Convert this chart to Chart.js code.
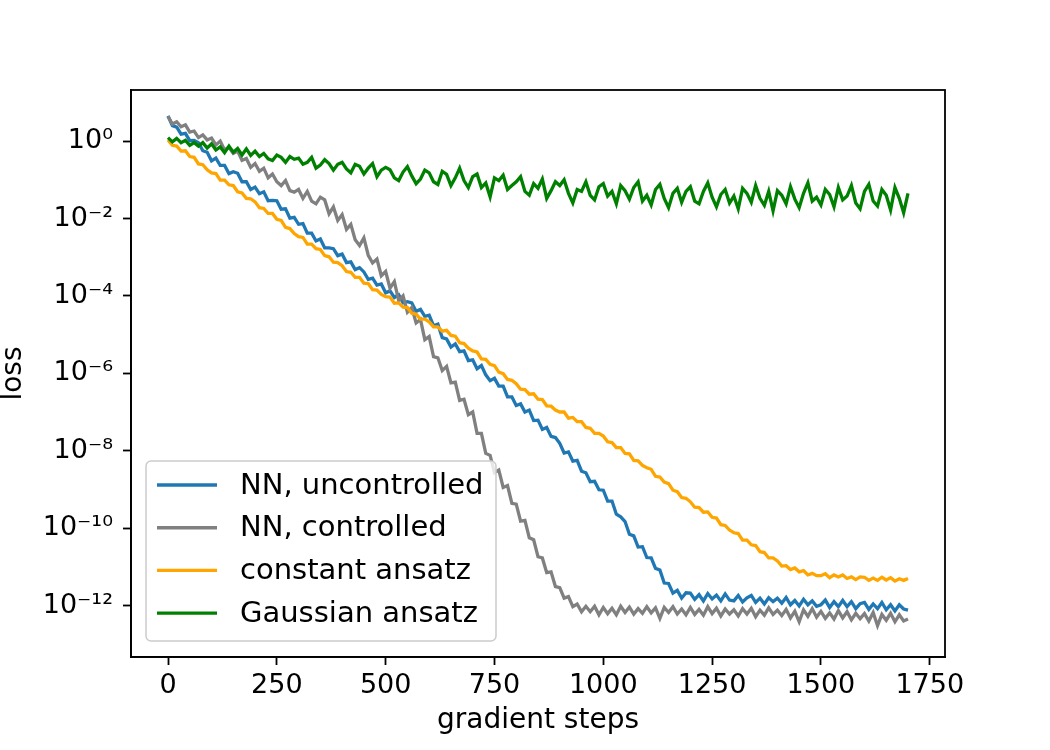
<!DOCTYPE html>
<html>
<head>
<meta charset="utf-8">
<script src="https://cdn.jsdelivr.net/npm/chart.js@4.4.1/dist/chart.umd.min.js"></script>
<style>
  html, body { margin: 0; padding: 0; background: #fff; }
  canvas { display: block; }
</style>
</head>
<body>
<canvas id="lossChart" width="1050" height="750"></canvas>
<script>
// loss curves, values are log10(loss) every 10 gradient steps
const steps = Array.from({ length: 171 }, (_, i) => i * 10);

const nnUncontrolled = [
  0.65, 0.40, 0.36, 0.18, 0.20, 0.01, 0.02, -0.04, -0.25, -0.29,
  -0.51, -0.44, -0.63, -0.63, -0.84, -0.79, -0.83, -1.05, -1.05, -1.25,
  -1.19, -1.36, -1.31, -1.54, -1.53, -1.54, -1.76, -1.75, -1.99, -1.97,
  -2.15, -2.13, -2.38, -2.38, -2.58, -2.53, -2.76, -2.76, -2.78, -2.96,
  -2.92, -3.14, -3.12, -3.32, -3.27, -3.38, -3.57, -3.54, -3.72, -3.69,
  -3.92, -3.87, -4.04, -3.97, -4.18, -4.15, -4.18, -4.40, -4.35, -4.53,
  -4.50, -4.77, -4.73, -5.08, -5.11, -5.32, -5.24, -5.44, -5.42, -5.67,
  -5.65, -5.88, -5.80, -6.04, -6.19, -6.13, -6.33, -6.33, -6.61, -6.61,
  -6.83, -6.79, -7.00, -6.95, -7.22, -7.21, -7.45, -7.40, -7.63, -7.66,
  -7.81, -8.06, -8.03, -8.27, -8.25, -8.53, -8.57, -8.80, -8.79, -9.01,
  -9.02, -9.30, -9.30, -9.64, -9.71, -9.83, -10.16, -10.20, -10.49, -10.48,
  -10.76, -10.77, -11.04, -11.08, -11.42, -11.43, -11.68, -11.61, -11.81, -11.67,
  -11.68, -11.84, -11.72, -11.88, -11.69, -11.83, -11.73, -11.88, -11.70, -11.86,
  -11.88, -11.74, -11.91, -11.80, -11.74, -11.92, -11.81, -11.96, -11.80, -11.90,
  -11.81, -11.94, -11.79, -11.98, -11.87, -12.01, -11.84, -11.98, -11.88, -12.02,
  -11.98, -11.86, -12.05, -11.90, -12.03, -11.87, -12.03, -11.90, -12.08, -11.95,
  -11.92, -12.10, -11.96, -12.08, -11.92, -12.11, -11.98, -12.14, -11.98, -12.09,
  -12.12
];

const nnControlled = [
  0.64, 0.44, 0.50, 0.37, 0.42, 0.23, 0.26, 0.09, 0.16, 0.03,
  0.08, -0.10, 0.00, -0.23, -0.16, -0.32, -0.26, -0.50, -0.45, -0.68,
  -0.58, -0.78, -0.70, -0.95, -0.85, -1.05, -1.15, -1.02, -1.28, -1.32,
  -1.25, -1.48, -1.30, -1.55, -1.62, -1.45, -1.52, -1.88, -1.70, -2.05,
  -1.90, -2.28, -2.15, -2.55, -2.70, -2.50, -2.95, -3.15, -3.05, -3.48,
  -3.37, -3.80, -3.63, -4.12, -4.00, -4.42, -4.30, -4.70, -4.61, -5.13,
  -5.05, -5.57, -5.60, -5.93, -5.82, -6.25, -6.23, -6.70, -6.67, -7.07,
  -7.00, -7.55, -7.55, -8.07, -8.12, -8.57, -8.50, -8.95, -8.90, -9.36,
  -9.38, -9.82, -9.80, -10.25, -10.30, -10.74, -10.77, -11.15, -11.13, -11.51,
  -11.54, -11.81, -11.77, -12.03, -11.96, -12.16, -12.02, -12.16, -12.02, -12.24,
  -12.05, -12.21, -12.07, -12.24, -12.02, -12.18, -12.04, -12.22, -12.08, -12.20,
  -12.03, -12.19, -12.06, -12.33, -12.05, -12.18, -12.03, -12.22, -12.09, -12.24,
  -12.05, -12.23, -12.10, -12.25, -12.03, -12.21, -12.07, -12.27, -12.09, -12.22,
  -12.11, -12.27, -12.08, -12.22, -12.07, -12.29, -12.12, -12.25, -12.06, -12.23,
  -12.12, -12.26, -12.10, -12.32, -12.15, -12.42, -12.11, -12.28, -12.08, -12.30,
  -12.15, -12.33, -12.19, -12.35, -12.13, -12.32, -12.16, -12.37, -12.20, -12.34,
  -12.21, -12.40, -12.18, -12.52, -12.23, -12.38, -12.20, -12.42, -12.24, -12.40,
  -12.35
];

const constantAnsatz = [
  0.03, -0.11, -0.13, -0.26, -0.25, -0.40, -0.42, -0.59, -0.61, -0.74,
  -0.82, -0.84, -1.01, -1.01, -1.13, -1.15, -1.31, -1.34, -1.48, -1.49,
  -1.57, -1.72, -1.74, -1.87, -1.87, -2.02, -2.05, -2.23, -2.26, -2.39,
  -2.47, -2.49, -2.66, -2.66, -2.78, -2.80, -2.96, -2.99, -3.13, -3.14,
  -3.22, -3.37, -3.39, -3.52, -3.52, -3.67, -3.68, -3.84, -3.85, -3.96,
  -4.02, -4.03, -4.19, -4.18, -4.29, -4.30, -4.45, -4.47, -4.60, -4.60,
  -4.67, -4.80, -4.80, -4.91, -4.89, -5.02, -5.04, -5.21, -5.23, -5.35,
  -5.42, -5.45, -5.63, -5.64, -5.77, -5.80, -5.97, -6.01, -6.16, -6.18,
  -6.27, -6.41, -6.42, -6.54, -6.53, -6.67, -6.68, -6.84, -6.85, -6.95,
  -7.00, -7.00, -7.16, -7.14, -7.25, -7.25, -7.40, -7.42, -7.55, -7.55,
  -7.62, -7.77, -7.79, -7.92, -7.92, -8.07, -8.08, -8.25, -8.26, -8.38,
  -8.44, -8.48, -8.66, -8.68, -8.81, -8.85, -9.02, -9.06, -9.21, -9.23,
  -9.32, -9.46, -9.47, -9.59, -9.58, -9.72, -9.74, -9.91, -9.93, -10.05,
  -10.12, -10.14, -10.31, -10.31, -10.43, -10.45, -10.61, -10.63, -10.77, -10.77,
  -10.85, -10.98, -10.97, -11.07, -11.03, -11.13, -11.10, -11.21, -11.17, -11.23,
  -11.23, -11.18, -11.28, -11.21, -11.26, -11.21, -11.30, -11.26, -11.33, -11.26,
  -11.27, -11.35, -11.29, -11.35, -11.27, -11.34, -11.28, -11.37, -11.31, -11.35,
  -11.30
];

const gaussianAnsatz = [
  0.09, -0.02, 0.07, -0.04, 0.02, -0.11, -0.04, -0.13, -0.04, -0.18,
  -0.07, -0.23, -0.15, -0.30, -0.13, -0.29, -0.19, -0.36, -0.20, -0.37,
  -0.26, -0.40, -0.32, -0.46, -0.50, -0.36, -0.42, -0.55, -0.40, -0.47,
  -0.44, -0.60, -0.55, -0.42, -0.70, -0.62, -0.48, -0.58, -0.75, -0.60,
  -0.55, -0.72, -0.82, -0.60, -0.65, -0.85, -0.70, -0.58, -0.92, -0.75,
  -0.68, -0.74, -0.95, -1.02, -0.80, -0.66, -0.90, -1.10, -0.98, -0.75,
  -0.82, -1.05, -1.12, -0.78, -0.86, -1.15, -0.95, -0.70, -1.02, -1.20,
  -0.92, -0.85, -1.20, -1.08, -1.44, -0.95, -1.02, -0.88, -1.25, -1.15,
  -1.05, -0.92, -1.30, -1.40, -1.10, -1.22, -0.98, -1.48, -1.28, -1.05,
  -1.15, -1.00, -1.35, -1.60, -1.25, -1.30, -1.05, -1.40, -1.52, -1.18,
  -1.10, -1.42, -1.30, -1.62, -1.15, -1.28, -1.50, -1.20, -1.05, -1.55,
  -1.40, -1.65, -1.25, -1.12, -1.48, -1.72, -1.35, -1.22, -1.58, -1.30,
  -1.18, -1.55, -1.62, -1.30, -1.08, -1.45, -1.70, -1.38, -1.25, -1.60,
  -1.42, -1.75, -1.22, -1.35, -1.58, -1.15, -1.48, -1.66, -1.30, -1.80,
  -1.28, -1.40, -1.62, -1.18, -1.50, -1.72, -1.35, -1.08, -1.55, -1.45,
  -1.65, -1.25, -1.38, -1.70, -1.20, -1.52, -1.42, -1.15, -1.60, -1.75,
  -1.30, -1.12, -1.55, -1.68, -1.25, -1.40, -1.78, -1.20, -1.48, -1.85,
  -1.35
];

const xTicks = [0, 250, 500, 750, 1000, 1250, 1500, 1750];
const yTickExps = [0, -2, -4, -6, -8, -10, -12];

const seriesNames = ['NN, uncontrolled', 'NN, controlled', 'constant ansatz', 'Gaussian ansatz'];
const seriesColors = ['#1f77b4', '#808080', '#ffa500', '#008000'];
const seriesValues = [nnUncontrolled, nnControlled, constantAnsatz, gaussianAnsatz];

const FONT = "'DejaVu Sans', sans-serif";
Chart.defaults.font.family = FONT;
Chart.defaults.color = '#000';

const SUP = { '0': '\u2070', '1': '\u00b9', '2': '\u00b2', '3': '\u00b3', '4': '\u2074',
  '5': '\u2075', '6': '\u2076', '7': '\u2077', '8': '\u2078', '9': '\u2079', '-': '\u207b' };
function powLabel(v) {
  const e = Math.round(Math.log10(v));
  return '10' + String(e).split('').map(c => SUP[c]).join('');
}

// frame around the plot + matplotlib style legend in lower left
const frameAndLegend = {
  id: 'frameAndLegend',
  afterDatasetsDraw(chart) {
    const { ctx, chartArea: a } = chart;
    ctx.save();
    ctx.strokeStyle = '#000';
    ctx.lineWidth = 1.8;
    ctx.strokeRect(a.left, a.top, a.right - a.left, a.bottom - a.top);

    const bx = a.left + 15, by = 461, bw = 350, bh = 180;
    ctx.beginPath();
    ctx.roundRect(bx, by, bw, bh, 5);
    ctx.fillStyle = 'rgba(255,255,255,0.8)';
    ctx.fill();
    ctx.strokeStyle = '#cccccc';
    ctx.lineWidth = 1.5;
    ctx.stroke();

    ctx.font = '29px ' + FONT;
    ctx.textBaseline = 'middle';
    ctx.fillStyle = '#000';
    seriesNames.forEach((name, i) => {
      const y = 485 + i * 42.7;
      ctx.beginPath();
      ctx.moveTo(bx + 11, y);
      ctx.lineTo(bx + 71, y);
      ctx.strokeStyle = seriesColors[i];
      ctx.lineWidth = 3.4;
      ctx.stroke();
      ctx.fillText(name, bx + 94, y + 1);
    });
    ctx.restore();
  }
};

const datasets = seriesValues.map((vals, i) => ({
  label: seriesNames[i],
  data: vals.map((v, j) => ({ x: steps[j], y: Math.pow(10, v) })),
  borderColor: seriesColors[i],
  borderWidth: 3.3,
  pointRadius: 0,
  tension: 0,
  fill: false,
  order: 4 - i
}));

new Chart(document.getElementById('lossChart').getContext('2d'), {
  type: 'line',
  data: { datasets: datasets },
  options: {
    responsive: false,
    animation: false,
    layout: { padding: { top: 90, right: 105, left: 0, bottom: 12 } },
    plugins: { legend: { display: false }, tooltip: { enabled: false } },
    scales: {
      x: {
        type: 'linear',
        min: -85,
        max: 1785,
        afterBuildTicks: s => { s.ticks = xTicks.map(v => ({ value: v })); },
        afterFit: s => { s.height = 81; },
        ticks: { font: { size: 27 }, padding: 5, maxRotation: 0, callback: v => String(v) },
        grid: { drawOnChartArea: false, drawTicks: true, tickLength: 8, tickWidth: 1.8, tickColor: '#000' },
        border: { display: true, color: '#000', width: 1.8 },
        title: { display: true, text: 'gradient steps', font: { size: 28 }, padding: { top: 0, bottom: 0 } }
      },
      y: {
        type: 'logarithmic',
        min: Math.pow(10, -13.33),
        max: Math.pow(10, 1.32),
        afterBuildTicks: s => { s.ticks = yTickExps.map(e => ({ value: Math.pow(10, e) })); },
        afterFit: s => { s.width = 131; },
        ticks: { font: { size: 27 }, padding: 10, callback: v => powLabel(v) },
        grid: { drawOnChartArea: false, drawTicks: true, tickLength: 8, tickWidth: 1.8, tickColor: '#000' },
        border: { display: true, color: '#000', width: 1.8 },
        title: { display: true, text: 'loss', font: { size: 28 }, padding: { top: -3, bottom: 0 } }
      }
    }
  },
  plugins: [frameAndLegend]
});
</script>
</body>
</html>
